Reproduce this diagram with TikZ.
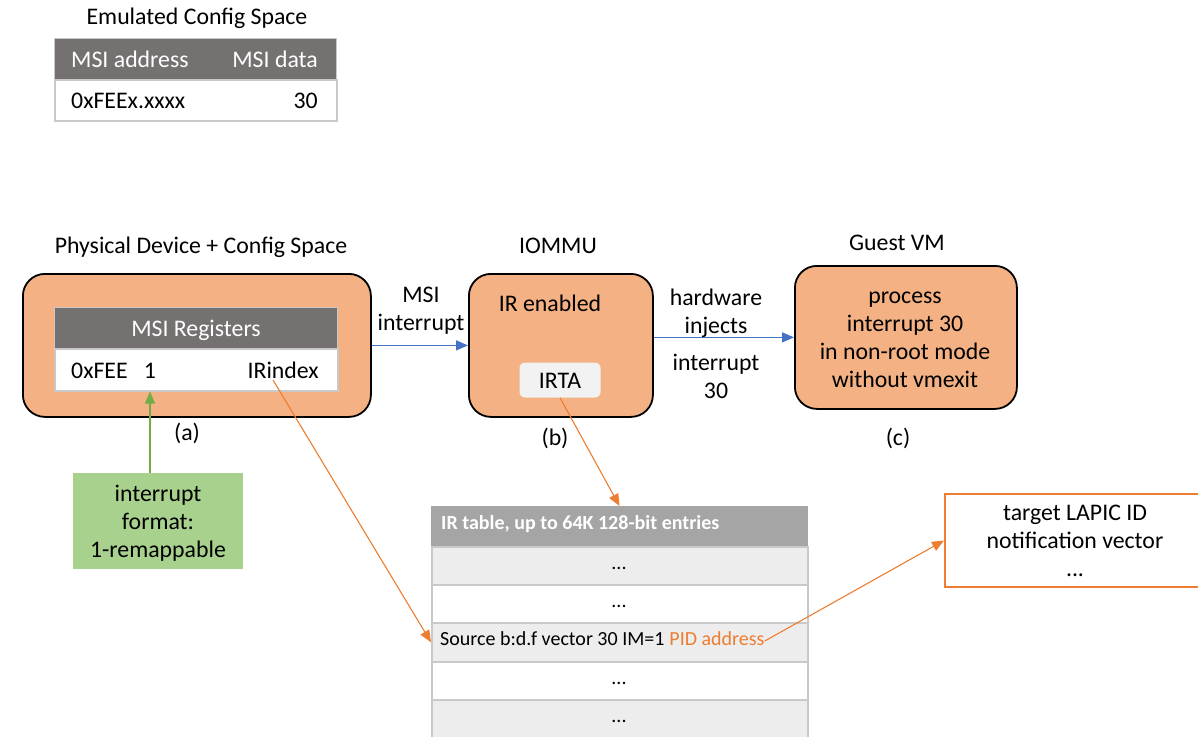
\documentclass[tikz,border=0pt]{standalone}
\usepackage{fontspec}
\setmainfont{Carlito}
\usetikzlibrary{arrows.meta}

\definecolor{unitfill}{HTML}{F4B183}
\definecolor{hdrdark}{HTML}{767171}
\definecolor{hdrgray}{HTML}{A5A5A5}
\definecolor{rowgray}{HTML}{EDEDED}
\definecolor{rowline}{HTML}{C9C9C9}
\definecolor{accent}{HTML}{ED7D31}
\definecolor{flowblue}{HTML}{4472C4}
\definecolor{fmtfill}{HTML}{A9D18E}
\definecolor{fmtline}{HTML}{70AD47}
\definecolor{irtafill}{HTML}{F2F2F2}

\tikzset{
  txt/.style={font=\fontsize{23.8}{28}\selectfont, inner sep=0pt,
              text height=17pt, text depth=1pt},
  mtxt/.style={font=\fontsize{23.8}{28}\selectfont, inner sep=0pt, align=center},
  small/.style={font=\fontsize{20}{24}\selectfont, inner sep=0pt,
                text height=12.8pt, text depth=3.2pt},
  unit/.style={draw=black, line width=1.8pt, fill=unitfill,
               rounded corners=22pt, anchor=north west, inner sep=0pt},
  darkhead/.style={fill=hdrdark, draw=rowline, line width=1pt,
                   anchor=north west, inner sep=0pt},
  plainrow/.style={fill=white, draw=rowline, line width=1.5pt,
                   anchor=north west, inner sep=0pt},
  greyrow/.style={fill=rowgray, draw=rowline, line width=1.5pt,
                  anchor=north west, inner sep=0pt},
  flow/.style={draw=flowblue, line width=1.3pt,
               -{Triangle[length=12pt,width=10pt]}},
  ptr/.style={draw=accent, line width=1.1pt,
              -{Triangle[length=12pt,width=10pt]}},
  fmtarrow/.style={draw=fmtline, line width=1.1pt,
                   -{Triangle[length=12pt,width=10pt]}},
}

\begin{document}
\begin{tikzpicture}[x=1pt,y=-1pt]
\useasboundingbox (0,0) rectangle (1198,736);
\clip (0,0) rectangle (1198,736);

% ---- emulated config space table
\node[txt] (emutitle) at (197,16) {Emulated Config Space};
\node[darkhead, minimum width=282pt, minimum height=41pt] (emuhead) at (54,38) {};
\node[plainrow, minimum width=282pt, minimum height=41pt] (emurow) at (54,79) {};
\node[txt, text=white, anchor=west] (emuaddr) at (71,59) {MSI address};
\node[txt, text=white, anchor=east] (emudata) at (318,59) {MSI data};
\node[txt, anchor=west] (emuval) at (71,100) {0xFEEx.xxxx};
\node[txt, anchor=east] (emuvec) at (318,100) {30};

% ---- three units
\node[txt] (devtitle) at (201,245) {Physical Device + Config Space};
\node[unit, minimum width=348pt, minimum height=143pt] (dev) at (22,273) {};
\node[txt] (iotitle) at (558,245) {IOMMU};
\node[unit, minimum width=184pt, minimum height=143pt] (iommu) at (468,273) {};
\node[txt] (vmtitle) at (897,242) {Guest VM};
\node[unit, minimum width=222pt, minimum height=143pt] (guest) at (794,265) {};

% MSI registers inside the device
\node[darkhead, minimum width=283pt, minimum height=41pt] (reghead) at (54,307) {};
\node[plainrow, minimum width=283pt, minimum height=42pt] (regrow) at (54,348) {};
\node[txt, text=white] (regtitle) at (196,328) {MSI Registers};
\node[txt, anchor=west] (regaddr) at (71,370) {0xFEE};
\node[txt] (regone) at (150,370) {1};
\node[txt, anchor=east] (regidx) at (319,370) {IRindex};
\coordinate (idxtap) at (273,380);

% IOMMU contents
\node[txt] (irstate) at (550,303) {IR enabled};
\node[fill=irtafill, rounded corners=5pt, minimum width=81pt,
      minimum height=35pt, inner sep=0pt] (irta) at (560,380) {};
\node[txt] (irtatxt) at (560,380) {IRTA};

% guest contents
\node[mtxt] (guesttxt) at (905,340)
  {process\\interrupt 30\\in non-root mode\\without vmexit};

% unit tags
\node[txt] (taga) at (187,432) {(a)};
\node[txt] (tagb) at (555,437) {(b)};
\node[txt] (tagc) at (898,437) {(c)};

% ---- interrupt format note
\node[fill=fmtfill, anchor=north west, minimum width=170pt,
      minimum height=96pt, inner sep=0pt] (fmt) at (73,473) {};
\node[mtxt] (fmttxt) at (158,523) {interrupt\\format:\\1-remappable};

% ---- IR table
\node[fill=hdrgray, draw=hdrgray, line width=1pt, anchor=north west,
      minimum width=376pt, minimum height=40pt, inner sep=0pt] (irhead) at (431,506) {};
\node[greyrow,  minimum width=376pt, minimum height=38pt] (row1) at (431,546) {};
\node[plainrow, minimum width=376pt, minimum height=38pt] (row2) at (431,584) {};
\node[greyrow,  minimum width=376pt, minimum height=39pt] (srcrow) at (431,622) {};
\node[plainrow, minimum width=376pt, minimum height=38pt] (row4) at (431,661) {};
\node[greyrow,  minimum width=376pt, minimum height=40pt] (row5) at (431,699) {};
\node[small, font=\fontsize{20}{24}\selectfont\bfseries, text=white, anchor=west]
  (irheadtxt) at (441,525) {IR table, up to 64K 128-bit entries};
\node[small] (dots1) at (619,565) {...};
\node[small] (dots2) at (619,603) {...};
\node[small, anchor=west] (srctxt) at (440,641) {Source b:d.f vector 30 IM=1};
\node[small, text=accent, anchor=west] (pidtxt) at (srctxt.east) {\ PID address};
\node[small] (dots4) at (619,680) {...};
\node[small] (dots5) at (619,718) {...};

% ---- posted-interrupt descriptor
\node[draw=accent, line width=2pt, fill=white, anchor=north west,
      minimum width=262pt, minimum height=93pt, inner sep=0pt] (pidbox) at (944,493) {};
\node[mtxt] (pidboxtxt) at (1075,541) {target LAPIC ID\\notification vector\\...};

% ---- connectors
\draw[flow] (dev) -- (iommu);
\node[mtxt] (msilabel) at (421,311) {MSI\\interrupt};
\draw[flow] (iommu.east |- guest.west) -- (guest.west);
\node[mtxt] (hwlabel) at (716,313) {hardware\\injects};
\node[mtxt] (veclabel) at (716,376) {interrupt\\30};
\draw[fmtarrow] (fmt.north -| regone) -- (regone |- regrow.south);
\draw[ptr] (idxtap) -- (srcrow.west);
\draw[ptr] (irta.south) -- (irhead.north);
\draw[ptr] (pidtxt.east) -- (pidbox.west);
\end{tikzpicture}
\end{document}
